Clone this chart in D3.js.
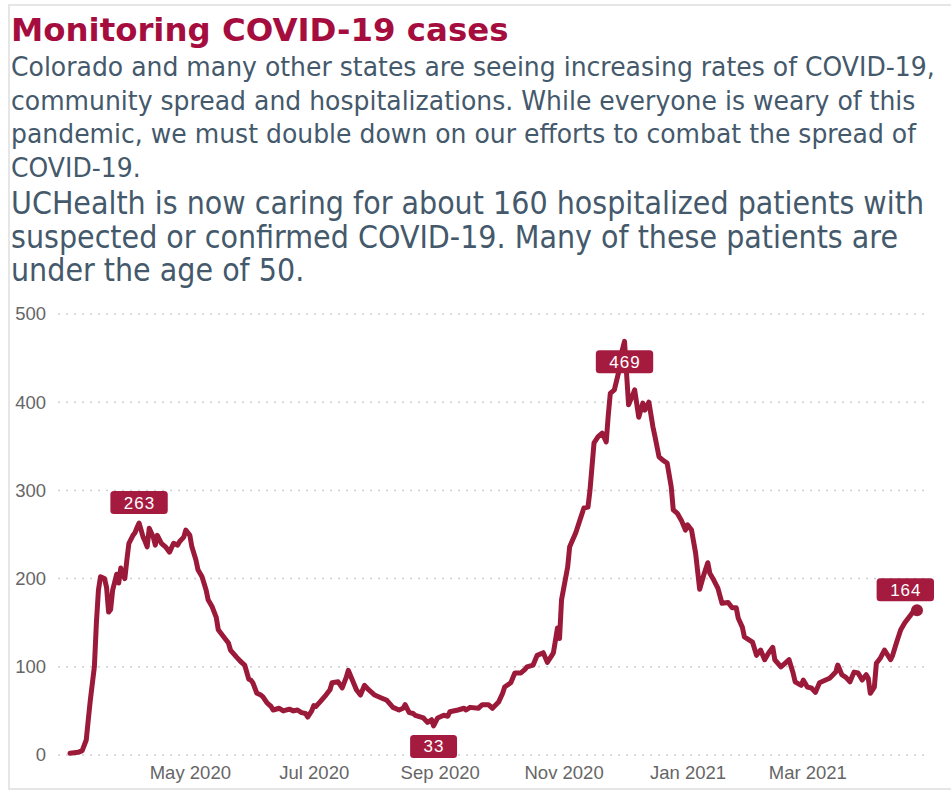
<!DOCTYPE html>
<html>
<head>
<meta charset="utf-8">
<script src="https://cdn.jsdelivr.net/npm/d3@7"></script>
<style>
  body { margin: 0; background: #fff; }
</style>
</head>
<body>
<div id="container"></div>
<script>
let w = 951;
let h = 792;

// daily census (Mar 2020 - Apr 2021)
let dates = [
  "2020-03-03","2020-03-07","2020-03-09","2020-03-11","2020-03-12","2020-03-13","2020-03-15","2020-03-16","2020-03-17","2020-03-18","2020-03-20","2020-03-21","2020-03-22","2020-03-23","2020-03-24","2020-03-26","2020-03-27","2020-03-28","2020-03-29","2020-03-30","2020-03-31",
  "2020-04-01","2020-04-03","2020-04-04","2020-04-05","2020-04-06","2020-04-08","2020-04-09","2020-04-10","2020-04-11","2020-04-13","2020-04-14","2020-04-15","2020-04-17","2020-04-18","2020-04-19","2020-04-21","2020-04-23","2020-04-25","2020-04-26","2020-04-28","2020-04-29",
  "2020-05-01","2020-05-02","2020-05-04","2020-05-05","2020-05-07","2020-05-09","2020-05-10","2020-05-12","2020-05-14","2020-05-15","2020-05-18","2020-05-20","2020-05-21","2020-05-24","2020-05-26","2020-05-28","2020-05-30","2020-05-31",
  "2020-06-01","2020-06-03","2020-06-05","2020-06-06","2020-06-08","2020-06-10","2020-06-11","2020-06-14","2020-06-16","2020-06-19","2020-06-21","2020-06-23","2020-06-25","2020-06-27","2020-06-28","2020-06-30",
  "2020-07-01","2020-07-02","2020-07-04","2020-07-07","2020-07-09","2020-07-10","2020-07-13","2020-07-15","2020-07-17","2020-07-18","2020-07-20","2020-07-22","2020-07-24","2020-07-26","2020-07-28","2020-07-31",
  "2020-08-03","2020-08-06","2020-08-09","2020-08-12","2020-08-14","2020-08-15","2020-08-17","2020-08-19","2020-08-20","2020-08-24","2020-08-26","2020-08-28","2020-08-29","2020-08-31",
  "2020-09-03","2020-09-05","2020-09-06","2020-09-10","2020-09-13","2020-09-14","2020-09-16","2020-09-20","2020-09-22","2020-09-25","2020-09-27","2020-09-30",
  "2020-10-02","2020-10-03","2020-10-06","2020-10-08","2020-10-11","2020-10-13","2020-10-14","2020-10-17","2020-10-19","2020-10-22","2020-10-24","2020-10-26","2020-10-27","2020-10-28","2020-10-29","2020-10-30","2020-10-31",
  "2020-11-03","2020-11-04","2020-11-07","2020-11-09","2020-11-11","2020-11-13","2020-11-14","2020-11-15","2020-11-16","2020-11-18","2020-11-20","2020-11-22","2020-11-23","2020-11-24","2020-11-26","2020-11-28","2020-11-29",
  "2020-12-01","2020-12-02","2020-12-03","2020-12-05","2020-12-06","2020-12-08","2020-12-10","2020-12-11","2020-12-13","2020-12-15","2020-12-16","2020-12-18","2020-12-20","2020-12-22","2020-12-24","2020-12-25","2020-12-27","2020-12-29","2020-12-31",
  "2021-01-01","2021-01-03","2021-01-05","2021-01-07","2021-01-09","2021-01-11","2021-01-12","2021-01-14","2021-01-16","2021-01-18","2021-01-21","2021-01-23","2021-01-25","2021-01-26","2021-01-28","2021-01-29",
  "2021-02-02","2021-02-04","2021-02-06","2021-02-08","2021-02-10","2021-02-12","2021-02-13","2021-02-16","2021-02-18","2021-02-20","2021-02-22","2021-02-23","2021-02-26","2021-02-27",
  "2021-03-01","2021-03-03","2021-03-05","2021-03-07","2021-03-10","2021-03-12","2021-03-15","2021-03-16","2021-03-18","2021-03-20","2021-03-22","2021-03-24","2021-03-26","2021-03-28","2021-03-30","2021-03-31",
  "2021-04-01","2021-04-03","2021-04-04","2021-04-06","2021-04-08","2021-04-11","2021-04-12","2021-04-14","2021-04-16","2021-04-18","2021-04-21","2021-04-23","2021-04-24"
];
let values = [
  2,3,5,17,40,62,100,150,187,202,200,190,162,165,187,205,195,212,205,200,221,
  240,249,252,258,263,247,242,236,257,247,238,249,240,238,236,230,240,238,242,247,255,
  249,236,221,210,202,187,176,168,156,142,133,127,119,111,106,102,86,85,
  82,70,68,66,59,55,51,53,50,52,50,51,48,47,43,50,
  56,55,60,68,74,82,83,76,88,96,85,74,68,79,74,68,
  65,62,54,51,53,57,48,47,45,42,37,40,33,42,
  45,44,49,51,53,51,54,53,57,57,53,60,
  70,77,82,93,93,97,100,102,113,116,105,112,116,130,144,132,176,
  213,236,252,266,280,281,300,327,354,361,365,355,385,410,414,433,451,
  469,433,397,408,414,383,399,391,400,372,361,338,334,331,304,278,274,266,255,
  261,255,229,188,204,218,206,198,189,172,173,167,167,155,145,134,
  128,113,119,108,116,122,108,100,104,108,93,83,79,85,
  77,76,71,82,85,87,94,102,91,88,83,94,93,85,91,87,
  70,77,104,110,119,108,113,128,142,150,159,166,164
];

let yTicks = [0, 100, 200, 300, 400, 500];
let xTickDates = ["2020-05-01", "2020-07-01", "2020-09-01", "2020-11-01", "2021-01-01", "2021-03-01"];
let calloutDates = ["2020-04-06", "2020-12-01", "2020-08-29", "2021-04-24"];
let calloutPlaces = ["above", "below", "below", "above"];

let titleText = "Monitoring COVID-19 cases";
let para1 = [
  "Colorado and many other states are seeing increasing rates of COVID-19,",
  "community spread and hospitalizations. While everyone is weary of this",
  "pandemic, we must double down on our efforts to combat the spread of",
  "COVID-19."
];
let para2 = [
  "UCHealth is now caring for about 160 hospitalized patients with",
  "suspected or confirmed COVID-19. Many of these patients are",
  "under the age of 50."
];

let crimson = "#9b1a3a";
let textColor = "#44596b";

let parseDate = d3.timeParse("%Y-%m-%d");
let data = dates.map(function (d, i) {
  return { date: parseDate(d), value: values[i] };
});

let viz = d3.select("#container")
  .append("svg")
  .attr("width", w)
  .attr("height", h)
  ;

// outer frame
viz.append("rect")
  .attr("x", 9)
  .attr("y", 5)
  .attr("width", 960)
  .attr("height", 784)
  .attr("fill", "none")
  .attr("stroke", "#e6e6e6")
  .attr("stroke-width", 2);

// heading
viz.append("text")
  .attr("x", 11)
  .attr("y", 41)
  .attr("font-family", "DejaVu Sans")
  .attr("font-weight", "bold")
  .attr("font-size", 32.4)
  .attr("fill", "#a50d3e")
  .text(titleText);

para1.forEach(function (line, i) {
  viz.append("text")
    .attr("transform", "translate(11," + (76 + i * 33.6) + ") scale(1,1.09)")
    .attr("font-family", "DejaVu Sans")
    .attr("font-size", 25.1)
    .attr("fill", textColor)
    .text(line);
});

para2.forEach(function (line, i) {
  viz.append("text")
    .attr("transform", "translate(11," + (214 + i * 33.6) + ") scale(1,1.1)")
    .attr("font-family", "DejaVu Sans")
    .attr("font-size", 28.6)
    .attr("fill", textColor)
    .text(line);
});

// scales
let xScale = d3.scaleTime()
  .domain(d3.extent(data, function (d) { return d.date; }))
  .range([70, 917]);
let yScale = d3.scaleLinear().domain([0, 500]).range([755, 314]);

// dotted grid
viz.append("g").attr("class", "grid")
  .selectAll("line")
  .data(yTicks)
  .enter()
  .append("line")
  .attr("x1", 58)
  .attr("x2", 928)
  .attr("y1", function (d) { return yScale(d); })
  .attr("y2", function (d) { return yScale(d); })
  .attr("stroke", "#cfcfcf")
  .attr("stroke-width", 1.5)
  .attr("stroke-dasharray", "2,6");

let yAxisGroup = viz.append("g").attr("class", "yaxis");
let yAxis = d3.axisLeft(yScale).tickValues(yTicks).tickSize(0).tickPadding(0);
yAxisGroup.call(yAxis);
yAxisGroup.attr("transform", "translate(46,0)");
yAxisGroup.select(".domain").remove();
yAxisGroup.selectAll("text")
  .attr("font-family", "Liberation Sans, Arial, sans-serif")
  .attr("font-size", 18.5)
  .attr("fill", "#666");

let xAxisGroup = viz.append("g").attr("class", "xaxis");
let xAxis = d3.axisBottom(xScale)
  .tickValues(xTickDates.map(parseDate))
  .tickFormat(d3.timeFormat("%b %Y"))
  .tickSize(0);
xAxisGroup.call(xAxis);
xAxisGroup.attr("transform", "translate(0,779)");
xAxisGroup.select(".domain").remove();
xAxisGroup.selectAll("text")
  .attr("y", 0)
  .attr("dy", null)
  .attr("font-family", "Liberation Sans, Arial, sans-serif")
  .attr("font-size", 18.5)
  .attr("fill", "#666");

// the census line
let line = d3.line()
  .x(function (d) { return xScale(d.date); })
  .y(function (d) { return yScale(d.value); });

viz.append("path")
  .datum(data)
  .attr("d", line)
  .attr("fill", "none")
  .attr("stroke", crimson)
  .attr("stroke-width", 5)
  .attr("stroke-linejoin", "round")
  .attr("stroke-linecap", "round");

let last = data[data.length - 1];
viz.append("circle")
  .attr("cx", xScale(last.date))
  .attr("cy", yScale(last.value))
  .attr("r", 6)
  .attr("fill", crimson);

// value callouts
calloutDates.forEach(function (ds, i) {
  let pt = data.find(function (d) { return +d.date === +parseDate(ds); });
  let px = xScale(pt.date);
  let py = yScale(pt.value);
  let g = viz.append("g");
  let rect = g.append("rect");
  let label = g.append("text")
    .attr("font-family", "Liberation Sans, Arial, sans-serif")
    .attr("font-size", 17)
    .attr("letter-spacing", 1)
    .attr("fill", "#fff")
    .attr("text-anchor", "middle")
    .text(pt.value);
  let bw = label.node().getComputedTextLength() + 26;
  let bh = 23;
  let cx = Math.min(px, 934 - bw / 2);
  let top = calloutPlaces[i] === "above" ? py - 9 - bh : py + 9;
  rect.attr("x", cx - bw / 2)
    .attr("y", top)
    .attr("width", bw)
    .attr("height", bh)
    .attr("rx", 3.5)
    .attr("fill", "#a51b3f");
  label.attr("x", cx + 0.5).attr("y", top + 17.5);
});
</script>
</body>
</html>
